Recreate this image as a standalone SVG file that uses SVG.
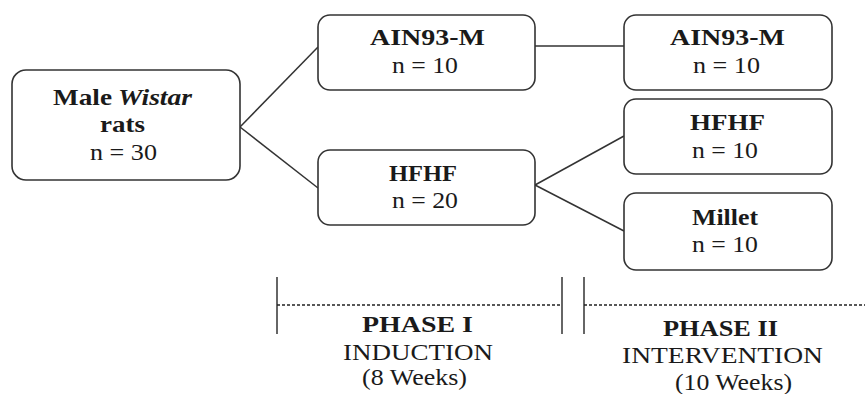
<svg xmlns="http://www.w3.org/2000/svg" width="865" height="394" viewBox="0 0 865 394">
<style>
.box{fill:#fff;stroke:#333;stroke-width:1.6}
.ln{stroke:#333;stroke-width:1.5;fill:none}
.dash{stroke:#222;stroke-width:1.3;stroke-dasharray:3 2;fill:none}
text{font-family:"Liberation Serif","Tinos","Times New Roman","Nimbus Roman","FreeSerif","DejaVu Serif","Noto Serif",serif;font-size:23px;fill:#1a1a1a}
.b{font-weight:bold}
.i{font-style:italic}
</style>
<rect width="865" height="394" fill="#fff"/>
<g id="connectors">
<line class="ln" x1="240" y1="127" x2="318" y2="47"/>
<line class="ln" x1="240" y1="127" x2="318" y2="188"/>
<line class="ln" x1="535" y1="46" x2="624" y2="46"/>
<line class="ln" x1="535" y1="185" x2="624" y2="136"/>
<line class="ln" x1="535" y1="185" x2="624" y2="231"/>
</g>
<g id="n-male">
<rect class="box" x="12" y="70" width="228" height="110" rx="14"/>
<text class="b" x="53" y="105" textLength="59" lengthAdjust="spacingAndGlyphs">Male</text>
<text class="b i" x="118" y="105" textLength="74" lengthAdjust="spacingAndGlyphs">Wistar</text>
<text class="b" x="100" y="132" textLength="45" lengthAdjust="spacingAndGlyphs">rats</text>
<text x="90" y="160" textLength="67" lengthAdjust="spacingAndGlyphs">n = 30</text>
</g>
<g id="n-ain-1">
<rect class="box" x="318" y="15" width="217" height="75" rx="12"/>
<text class="b" x="370" y="45" textLength="115" lengthAdjust="spacingAndGlyphs">AIN93-M</text>
<text x="392" y="73" textLength="66" lengthAdjust="spacingAndGlyphs">n = 10</text>
</g>
<g id="n-hfhf-1">
<rect class="box" x="318" y="150" width="217" height="75" rx="12"/>
<text class="b" x="389" y="181" textLength="68" lengthAdjust="spacingAndGlyphs">HFHF</text>
<text x="392" y="208" textLength="66" lengthAdjust="spacingAndGlyphs">n = 20</text>
</g>
<g id="n-ain-2">
<rect class="box" x="624" y="15" width="208" height="75" rx="12"/>
<text class="b" x="670" y="45" textLength="115" lengthAdjust="spacingAndGlyphs">AIN93-M</text>
<text x="693" y="73" textLength="67" lengthAdjust="spacingAndGlyphs">n = 10</text>
</g>
<g id="n-hfhf-2">
<rect class="box" x="624" y="99" width="208" height="75" rx="12"/>
<text class="b" x="690" y="130" textLength="75" lengthAdjust="spacingAndGlyphs">HFHF</text>
<text x="692" y="158" textLength="66" lengthAdjust="spacingAndGlyphs">n = 10</text>
</g>
<g id="n-millet">
<rect class="box" x="624" y="193" width="208" height="77" rx="12"/>
<text class="b" x="692" y="225" textLength="66" lengthAdjust="spacingAndGlyphs">Millet</text>
<text x="692" y="252" textLength="66" lengthAdjust="spacingAndGlyphs">n = 10</text>
</g>
<g id="phases">
<line class="ln" x1="277" y1="277" x2="277" y2="334"/>
<line class="dash" x1="277" y1="305" x2="562" y2="305"/>
<line class="ln" x1="562" y1="277" x2="562" y2="334"/>
<line class="ln" x1="584" y1="277" x2="584" y2="334"/>
<line class="dash" x1="584" y1="305" x2="865" y2="305"/>
<text class="b" x="362" y="332" textLength="111" lengthAdjust="spacingAndGlyphs">PHASE I</text>
<text x="343" y="360" textLength="150" lengthAdjust="spacingAndGlyphs">INDUCTION</text>
<text x="362" y="385" textLength="105" lengthAdjust="spacingAndGlyphs">(8 Weeks)</text>
<text class="b" x="663" y="336" textLength="115" lengthAdjust="spacingAndGlyphs">PHASE II</text>
<text x="622" y="363" textLength="201" lengthAdjust="spacingAndGlyphs">INTERVENTION</text>
<text x="675" y="390" textLength="117" lengthAdjust="spacingAndGlyphs">(10 Weeks)</text>
</g>
</svg>
